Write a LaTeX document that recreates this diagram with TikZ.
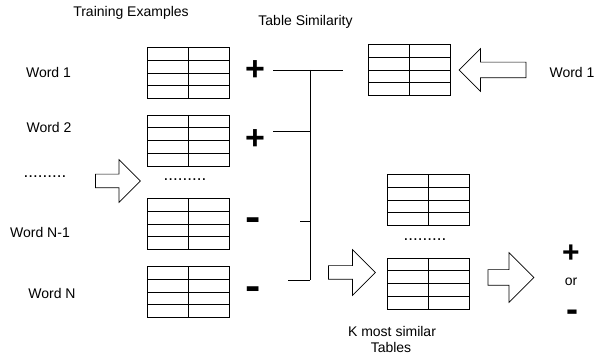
\documentclass[tikz,border=0pt]{standalone}
\usepackage{fontspec}
\setmainfont{Liberation Sans}
\usetikzlibrary{shapes.arrows,calc}
\tikzset{
  lbl/.style={font=\fontsize{14}{18}\selectfont, inner sep=0pt},
  dots/.style={font=\fontsize{17}{18}\selectfont, inner sep=0pt},
  psign/.style={font=\fontsize{34}{34}\selectfont\bfseries, inner sep=0pt},
  msign/.style={font=\fontsize{40}{40}\selectfont\bfseries, inner sep=0pt},
  tbl/.style={draw, line width=0.9pt, minimum width=82pt, minimum height=51pt, inner sep=0pt,
    path picture={
      \foreach \f in {0.25,0.5,0.75}
        \draw[line width=0.9pt] ($(path picture bounding box.north west)!\f!(path picture bounding box.south west)$)
          -- ($(path picture bounding box.north east)!\f!(path picture bounding box.south east)$);
      \draw[line width=0.9pt] (path picture bounding box.north) -- (path picture bounding box.south);
    }},
  blk/.style={single arrow, draw, line width=0.7pt, inner xsep=0pt, single arrow tip angle=90},
  conn/.style={line width=0.75pt}
}
\begin{document}
\begin{tikzpicture}[x=1pt,y=-1pt]
\useasboundingbox (0,0) rectangle (595,355);
% titles
\node[lbl] (ttrain) at (131,13) {Training Examples};
\node[lbl] (tsim) at (305.5,22) {Table Similarity};
% words
\node[lbl] (w1) at (48.5,72) {Word 1};
\node[lbl] (w2) at (49,127) {Word 2};
\node[dots] (d1) at (45,177) {.........};
\node[lbl] (wn1) at (40,232) {Word N-1};
\node[lbl] (wn) at (52,293) {Word N};
% training tables
\node[tbl] (t1) at (188,73) {};
\node[tbl] (t2) at (188,140.5) {};
\node[dots] (d2) at (185,180) {.........};
\node[tbl] (t3) at (188,224) {};
\node[tbl] (t4) at (188,292) {};
% signs
\node[psign] (p1) at (255,71) {+};
\node[psign] (p2) at (255,140) {+};
\node[msign] (m1) at (253.5,224) {\scalebox{1.15}[1]{-}};
\node[msign] (m2) at (253.5,293) {\scalebox{1.15}[1]{-}};
% arrow into training
\node[blk, inner ysep=6.5pt, minimum height=45pt, minimum width=42pt, single arrow head extend=14.5pt] (a1) at (114.5,181) {};
% query
\node[tbl] (q) at (409,70) {};
\node[blk, shape border rotate=180, inner ysep=7.5pt, minimum height=67pt, minimum width=42pt, single arrow head extend=13.5pt] (a2) at (496.5,70) {};
\node[lbl] (wq) at (572,72) {Word 1};
% connectors
\coordinate (s1) at (273,70);
\coordinate (e1) at (343,70);
\coordinate (b1) at (310,70);
\coordinate (s2) at (273,131);
\coordinate (b2) at (310,131);
\coordinate (s3) at (300,221);
\coordinate (b3) at (310,221);
\coordinate (s4) at (288,280);
\coordinate (b4) at (310,280);
\draw[conn] (s1) -- (e1);
\draw[conn] (b1) -- (b4);
\draw[conn] (s2) -- (b2);
\draw[conn] (s3) -- (b3);
\draw[conn] (s4) -- (b4);
% K most similar
\node[blk, inner ysep=6.5pt, minimum height=47pt, minimum width=45pt, single arrow head extend=16pt] (a3) at (348.5,272.5) {};
\node[tbl] (k1) at (428,200) {};
\node[dots] (d3) at (425,240) {.........};
\node[tbl] (k2) at (428,283.5) {};
\node[lbl] (klbl1) at (392,331) {K most similar};
\node[lbl] (klbl2) at (391,347.5) {Tables};
\node[blk, inner ysep=7.5pt, minimum height=46pt, minimum width=49pt, single arrow head extend=17pt] (a4) at (507,277.5) {};
% result
\node[psign, font=\fontsize{30}{30}\selectfont\bfseries] (rp) at (571,254) {+};
\node[lbl] (ror) at (571,282) {or};
\node[msign, font=\fontsize{36}{36}\selectfont\bfseries] (rm) at (572.5,315.5) {-};
\end{tikzpicture}
\end{document}
